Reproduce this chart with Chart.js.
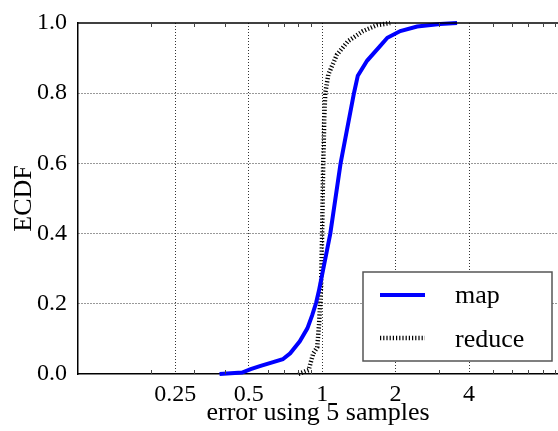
<!DOCTYPE html>
<html>
<head>
<meta charset="utf-8">
<script src="https://cdn.jsdelivr.net/npm/chart.js@4.4.1/dist/chart.umd.min.js"></script>
<style>
  html, body { margin: 0; padding: 0; background: #fff; }
  #wrap { width: 558px; height: 431px; }
</style>
</head>
<body>
<div id="wrap"><canvas id="chart"></canvas></div>
<script>
// valores (ECDF)
const mapX = [0.38, 0.47, 0.51, 0.56, 0.63, 0.69, 0.74, 0.81, 0.87, 0.91, 0.945, 0.97, 1.08, 1.19, 1.35, 1.40, 1.53, 1.73, 1.85, 2.09, 2.45, 3.04, 3.57];
const mapY = [0, 0.004, 0.014, 0.023, 0.034, 0.042, 0.059, 0.093, 0.130, 0.167, 0.203, 0.237, 0.40, 0.60, 0.80, 0.85, 0.893, 0.935, 0.958, 0.977, 0.990, 0.997, 1.0];

const reduceX = [0.80, 0.88, 0.92, 0.955, 0.972, 0.981, 0.99, 1.0, 1.01, 1.015, 1.02, 1.03, 1.06, 1.15, 1.28, 1.47, 1.68, 1.90];
const reduceY = [0, 0.011, 0.059, 0.076, 0.144, 0.20, 0.25, 0.40, 0.60, 0.65, 0.73, 0.80, 0.853, 0.910, 0.949, 0.977, 0.994, 1.0];

const xTicks = [0.25, 0.5, 1, 2, 4];
const xMinorTicks = [0.2, 0.3, 0.4, 0.6, 0.7, 0.8, 0.9, 3, 5, 6, 7, 8, 9];
const yTicks = [0, 0.2, 0.4, 0.6, 0.8, 1.0];

const fonte = 'Liberation Serif';

function juntar(xs, ys) {
  return xs.map((x, i) => ({ x: x, y: ys[i] }));
}

// borda superior, marcas menores e legenda dentro da área
const extras = {
  id: 'extras',
  afterDraw(chart) {
    const ctx = chart.ctx;
    const area = chart.chartArea;
    const xs = chart.scales.x;

    ctx.save();
    ctx.strokeStyle = '#000';
    ctx.lineWidth = 1.5;
    ctx.beginPath();
    ctx.moveTo(area.left, area.top);
    ctx.lineTo(area.right, area.top);
    ctx.stroke();

    ctx.lineWidth = 1;
    ctx.strokeStyle = '#444';
    xMinorTicks.forEach(v => {
      const px = Math.round(xs.getPixelForValue(v)) + 0.5;
      ctx.beginPath();
      ctx.moveTo(px, area.bottom);
      ctx.lineTo(px, area.bottom - 4);
      ctx.moveTo(px, area.top);
      ctx.lineTo(px, area.top + 4);
      ctx.stroke();
    });

    // legenda
    const bx = 363, by = 272, bw = 189, bh = 89;
    ctx.fillStyle = '#fff';
    ctx.fillRect(bx, by, bw, bh);
    ctx.strokeStyle = '#555';
    ctx.lineWidth = 1.5;
    ctx.strokeRect(bx, by, bw, bh);

    const linhas = [295, 338];
    const bases = [303, 347];
    chart.data.datasets.forEach((ds, i) => {
      ctx.strokeStyle = ds.borderColor;
      ctx.lineWidth = ds.borderWidth;
      ctx.setLineDash(ds.borderDash || []);
      ctx.beginPath();
      ctx.moveTo(380, linhas[i]);
      ctx.lineTo(425, linhas[i]);
      ctx.stroke();
      ctx.setLineDash([]);
      ctx.fillStyle = '#000';
      ctx.font = '26px "' + fonte + '"';
      ctx.textAlign = 'left';
      ctx.textBaseline = 'alphabetic';
      ctx.fillText(ds.label, 455, bases[i]);
    });
    ctx.restore();
  }
};

const ctx = document.getElementById('chart').getContext('2d');
new Chart(ctx, {
  type: 'line',
  data: {
    datasets: [
      {
        label: 'map',
        data: juntar(mapX, mapY),
        borderColor: '#0000ff',
        borderWidth: 4,
        pointRadius: 0,
        tension: 0,
        clip: false
      },
      {
        label: 'reduce',
        data: juntar(reduceX, reduceY),
        borderColor: '#000',
        borderWidth: 4.5,
        borderDash: [1.2, 2],
        pointRadius: 0,
        tension: 0,
        clip: false
      }
    ]
  },
  options: {
    responsive: true,
    maintainAspectRatio: false,
    animation: false,
    layout: { padding: { top: 18, right: 0, left: 0, bottom: 0 } },
    plugins: {
      legend: { display: false },
      tooltip: { enabled: false }
    },
    scales: {
      x: {
        type: 'logarithmic',
        min: 0.1,
        max: 9.25,
        afterBuildTicks: scale => {
          scale.ticks = xTicks.map(v => ({ value: v }));
        },
        afterFit: scale => { scale.height = 57; },
        ticks: {
          color: '#000',
          font: { family: fonte, size: 24, lineHeight: 1 },
          padding: 9,
          maxRotation: 0,
          autoSkip: false,
          callback: v => String(v)
        },
        grid: {
          color: '#333',
          lineWidth: 1,
          drawTicks: false
        },
        border: { display: true, color: '#000', width: 1.5, dash: [1, 2] },
        title: {
          display: true,
          text: 'error using 5 samples',
          color: '#000',
          font: { family: fonte, size: 26 },
          padding: { top: 0, bottom: 2 }
        }
      },
      y: {
        min: 0,
        max: 1,
        afterBuildTicks: scale => {
          scale.ticks = yTicks.map(v => ({ value: v }));
        },
        afterFit: scale => { scale.width = 78; },
        ticks: {
          color: '#000',
          font: { family: fonte, size: 24, lineHeight: 1 },
          padding: 11,
          callback: v => v.toFixed(1)
        },
        grid: {
          color: c => (c.tick && (c.tick.value === 0 || c.tick.value === 1)) ? 'rgba(0,0,0,0)' : '#333',
          lineWidth: 1,
          drawTicks: false
        },
        border: { display: true, color: '#000', width: 1.5, dash: [1, 2] },
        title: {
          display: true,
          text: 'ECDF',
          color: '#000',
          font: { family: fonte, size: 26 },
          padding: { top: 9, bottom: 0 }
        }
      }
    }
  },
  plugins: [extras]
});
</script>
</body>
</html>
